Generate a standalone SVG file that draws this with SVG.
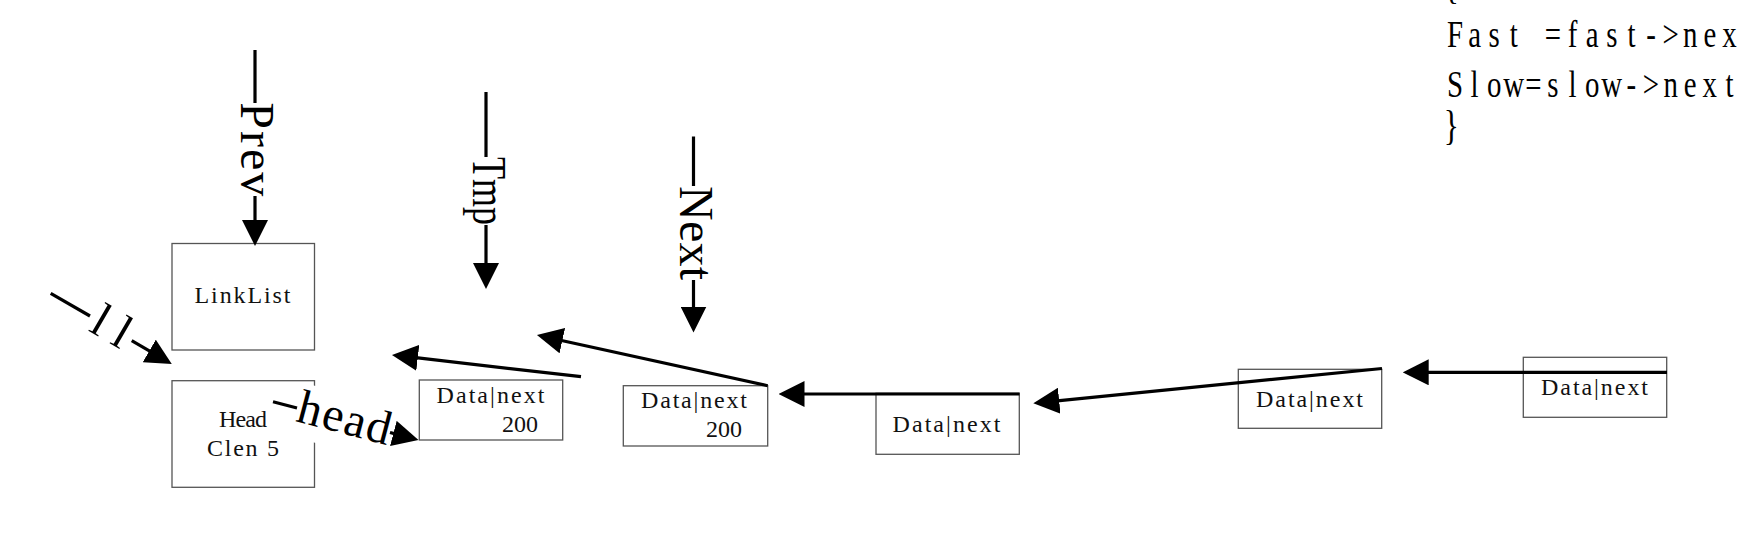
<svg xmlns="http://www.w3.org/2000/svg" width="1737" height="535" viewBox="0 0 1737 535">
<defs>
<style>
.box{fill:#fff;stroke:#555;stroke-width:1.3}
.t{font-family:"Liberation Serif","Times New Roman",serif;fill:#111}
.bt{font-size:24px}
.lbl{font-size:48px;fill:#000}
.code{font-size:38.5px;fill:#000}
.br{font-size:42px;fill:#000}
.c{stroke:#000;stroke-width:3.2;fill:none}
.ca{marker-end:url(#ah)}
</style>
<marker id="ah" markerUnits="userSpaceOnUse" markerWidth="26" markerHeight="26" viewBox="0 0 26 26" refX="2" refY="13" orient="auto">
<path d="M0,0 L26,13 L0,26 z" fill="#000"/>
</marker>
</defs>
<rect width="1737" height="535" fill="#fff"/>

<g id="linklist">
<rect class="box" x="172" y="243.5" width="142.5" height="106.5"/>
<text class="t bt" x="194.5" y="303.3" textLength="96" lengthAdjust="spacing">LinkList</text>
</g>
<g id="head">
<rect class="box" x="172" y="380.7" width="142.5" height="106.6"/>
<text class="t bt" x="243" y="426.7" text-anchor="middle" textLength="48" lengthAdjust="spacing">Head</text>
<text class="t bt" x="243" y="455.7" text-anchor="middle" textLength="72" lengthAdjust="spacing">Clen 5</text>
</g>
<g id="node2">
<rect class="box" x="419.3" y="380" width="143.4" height="60"/>
<text class="t bt" x="436.5" y="403.3" textLength="108" lengthAdjust="spacing">Data|next</text>
<text class="t bt" x="502" y="431.7" textLength="36" lengthAdjust="spacing">200</text>
</g>
<g id="node3">
<rect class="box" x="623.3" y="385.7" width="144.4" height="60.3"/>
<text class="t bt" x="641" y="408.3" textLength="106" lengthAdjust="spacing">Data|next</text>
<text class="t bt" x="706" y="436.7" textLength="36" lengthAdjust="spacing">200</text>
</g>
<g id="node4">
<rect class="box" x="876" y="393.3" width="143.3" height="61"/>
<text class="t bt" x="892.5" y="431.7" textLength="108" lengthAdjust="spacing">Data|next</text>
</g>
<g id="node5">
<rect class="box" x="1238.3" y="369.3" width="143.4" height="59"/>
<text class="t bt" x="1256" y="406.5" textLength="107" lengthAdjust="spacing">Data|next</text>
</g>
<g id="node6">
<rect class="box" x="1523.3" y="357.3" width="143.4" height="60"/>
<text class="t bt" x="1541" y="395" textLength="107" lengthAdjust="spacing">Data|next</text>
</g>

<g id="code" transform="scale(0.75,1)">
<text class="t br" x="1925" y="-2">{</text>
<text class="t code" text-anchor="middle" x="1940 1966.13 1992.27 2018.4 2044.53 2070.67 2096.8 2122.93 2149.07 2175.2 2201.33 2227.47 2253.6 2279.73 2305.87" y="47.5">Fast =fast-&gt;nex</text>
<text class="t code" text-anchor="middle" x="1940 1966.13 1992.27 2018.4 2044.53 2070.67 2096.8 2122.93 2149.07 2175.2 2201.33 2227.47 2253.6 2279.73 2305.87" y="97">Slow=slow-&gt;next</text>
<text class="t br" x="1925" y="139.4">}</text>
</g>

<g id="connectors">
<line class="c" x1="255" y1="50" x2="255" y2="103"/>
<line class="c ca" x1="255" y1="196" x2="255" y2="222"/>
<text class="t lbl" transform="translate(255,149.2) rotate(90)" x="0" y="14" text-anchor="middle" textLength="94" lengthAdjust="spacing">Prev</text>

<line class="c" x1="486" y1="92" x2="486" y2="157"/>
<line class="c ca" x1="486" y1="225" x2="486" y2="265"/>
<text class="t lbl" transform="translate(486,191) rotate(90)" x="0" y="13.5" text-anchor="middle" textLength="68" lengthAdjust="spacingAndGlyphs">Tmp</text>

<line class="c" x1="693.5" y1="136.5" x2="693.5" y2="186"/>
<line class="c ca" x1="693.5" y1="280" x2="693.5" y2="308.5"/>
<text class="t lbl" transform="translate(693.5,233) rotate(90)" x="0" y="13.5" text-anchor="middle" textLength="94" lengthAdjust="spacing">Next</text>

<line class="c" x1="50.7" y1="293.3" x2="90" y2="316"/>
<line class="c ca" x1="131.7" y1="340.7" x2="151" y2="351.9"/>
<text class="t lbl" transform="translate(110.85,327.85) rotate(30.3)" x="0" y="14" text-anchor="middle" textLength="38" lengthAdjust="spacing">ll</text>

<rect transform="translate(344.1,420.4) rotate(14.75)" x="-48" y="-26" width="100" height="55" fill="#fff"/>
<line class="c" x1="273" y1="401.7" x2="297" y2="408"/>
<line class="c ca" x1="390" y1="432.5" x2="395.3" y2="433.9"/>
<text class="t lbl" transform="translate(344.1,420.4) rotate(14.75)" x="0" y="13" text-anchor="middle" textLength="95" lengthAdjust="spacing">head</text>

<line class="c ca" x1="581" y1="376.7" x2="415.8" y2="357.7"/>
<line class="c ca" x1="767.7" y1="385.7" x2="560.4" y2="340.2"/>
<line class="c ca" x1="1019.5" y1="394" x2="802.5" y2="394"/>
<line class="c ca" x1="1382" y1="368.5" x2="1057.2" y2="400.9"/>
<line class="c ca" x1="1667" y1="372.3" x2="1426.7" y2="372.3"/>
</g>
</svg>
